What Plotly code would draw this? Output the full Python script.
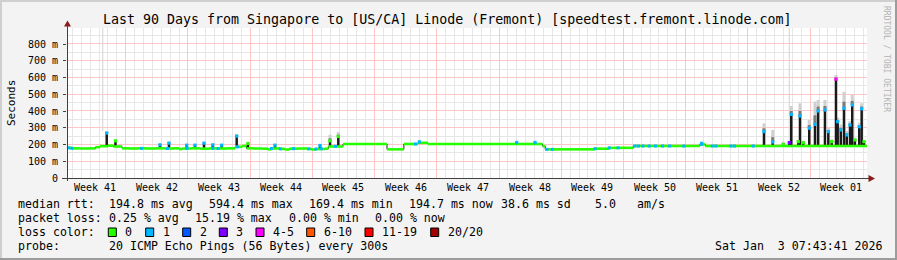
import math
import plotly.graph_objects as go

# ---------------- data ----------------
# median rtt baseline, step points: day offset from graph start, value in ms
base_day = [0, 0.6, 1.5, 2.5, 3.2, 3.7, 4.6, 5.2, 6.2, 7.0, 8.0, 9.0, 10.0, 11.0, 12.0, 12.6,
            13.0, 14.0, 15.0, 16.0, 17.0, 18.0, 18.9, 19.7, 20.2, 21.0, 22.0, 22.6, 23.0, 24.0,
            24.5, 25.0, 26.0, 27.0, 27.5, 28.0, 29.0, 29.4, 31.05, 36.0, 37.9, 39.5, 40.6, 45.0,
            50.0, 53.5, 53.8, 56.0, 59.4, 61.0, 63.7, 71.2, 71.8, 80.0, 90.0]
base_val = [180, 177, 176, 177, 184, 190, 193, 188, 177, 176, 177, 176, 177, 176, 177, 173,
            176, 177, 175, 177, 176, 177, 186, 191, 177, 176, 175, 171, 176, 174,
            170, 175, 176, 174, 170, 173, 175, 188, 203, 171, 203, 210, 203, 203,
            203, 190, 171, 171, 175, 180, 191, 201, 191, 191, 191]

# spikes: day, baseline, median peak, smoke top (ms), loss class index
spike_day = [4.47, 5.45, 10.46, 11.47, 13.47, 14.40, 15.41, 16.40, 17.40, 19.09, 20.36,
             23.40, 28.46, 29.59, 30.52, 39.64, 50.59, 52.65, 71.40,
             78.41, 79.39, 80.58, 81.26, 81.48, 82.27, 82.46, 82.83, 83.50, 84.15, 84.50,
             85.27, 85.65, 86.03, 86.51, 86.70, 87.05, 87.41, 87.72, 88.09, 88.34, 88.64,
             89.13, 89.40, 89.66]
spike_base = [191, 190, 177, 177, 176, 177, 176, 177, 176, 190, 178,
              177, 174, 187, 190, 207, 203, 203, 195,
              191, 191, 191, 191, 191, 191, 191, 191, 191, 191, 191,
              191, 191, 191, 191, 191, 191, 191, 191, 191, 191, 191,
              191, 191, 191]
spike_peak = [268, 222, 198, 208, 196, 196, 208, 198, 196, 250, 206,
              196, 194, 222, 248, 216, 212, 212, 207,
              277, 215, 200, 211, 380, 217, 370, 211, 297, 320, 400,
              406, 277, 217, 590, 336, 287, 416, 257, 316, 436, 227,
              306, 413, 217]
spike_top = [280, 228, 204, 214, 200, 200, 212, 202, 200, 262, 210,
             200, 198, 258, 275, 220, 216, 216, 210,
             326, 287, 217, 220, 430, 225, 446, 220, 346, 456, 466,
             466, 300, 230, 615, 360, 320, 515, 280, 340, 496, 240,
             330, 446, 225]
spike_loss = [1, 0, 1, 1, 1, 1, 1, 1, 1, 1, 0,
              1, 1, 0, 0, 1, 1, 1, 1,
              1, 1, 0, 3, 1, 0, 1, 0, 1, 1, 1,
              1, 1, 0, 4, 1, 1, 1, 1, 1, 1, 0,
              1, 1, 0]

# faint single-sample smoke columns reaching the top of the graph
ghost_day = [4.02, 81.26]
ghost_low = [280, 215]

# samples of the median line with 1/20 loss (blue)
blue_day = [0.2, 0.56, 8.4, 11.3, 13.5, 16.4, 17.0, 19.2, 23.0, 24.0, 25.5, 27.2, 28.0, 28.6,
            30.2, 39.2, 54.0, 54.6, 59.4, 61.0, 62.0, 63.9, 64.3, 64.8, 65.5, 66.2, 67.0, 67.8,
            69.4, 71.4, 72.6, 73.0, 74.7, 75.1, 77.2]
blue_val = [180, 177, 177, 176, 177, 177, 176, 186, 176, 174, 175, 174, 173, 175,
            189, 203, 171, 171, 175, 180, 180, 191, 191, 191, 191, 191, 191, 191,
            191, 201, 191, 191, 191, 191, 191]

y_tick_vals = [0, 100, 200, 300, 400, 500, 600, 700, 800]
y_tick_text = ["0", "100 m", "200 m", "300 m", "400 m", "500 m", "600 m", "700 m", "800 m"]
y_minor_vals = [50, 150, 250, 350, 450, 550, 650, 750, 850]
week_labels = ["Week 41", "Week 42", "Week 43", "Week 44", "Week 45", "Week 46", "Week 47",
               "Week 48", "Week 49", "Week 50", "Week 51", "Week 52", "Week 01"]

loss_labels = ["0", "1", "2", "3", "4-5", "6-10", "11-19", "20/20"]
loss_colors = ["#26ff00", "#00b8ff", "#0059ff", "#7e00ff", "#ff00ff", "#ff5500", "#ff0000", "#a10000"]

title = "Last 90 Days from Singapore to [US/CA] Linode (Fremont) [speedtest.fremont.linode.com]"
row_median = [("median rtt:", 16), ("194.8 ms avg", 107.3), ("594.4 ms max", 207.3),
              ("169.4 ms min", 307.3), ("194.7 ms now", 406.7), ("38.6 ms sd", 499.3),
              ("5.0", 593.3), ("am/s", 635)]
row_loss = [("packet loss:", 16), ("0.25 % avg", 107.3), ("15.19 % max", 192.7),
            ("0.00 % min", 286.7), ("0.00 % now", 372.7)]
row_probe = [("probe:", 16), ("20 ICMP Echo Pings (56 Bytes) every 300s", 107.3),
             ("Sat Jan\u00a0\u00a03 07:43:41 2026", 713.3)]
loss_box_px = [108.3, 145.7, 182.7, 219.3, 256, 306.7, 365, 430.7]

# ---------------- geometry ----------------
W, H = 897, 260
PL, PR, PT, PB = 67, 867, 28, 178
DAYS = 90
Y_TOP = 895.5
FONT = "DejaVu Sans Mono"
first_week_start = -0.4


def px2x(px):
    return (px - PL) / (PR - PL)


def py2y(py):
    return (PB - py) / (PB - PT)


def crisp_day(d):
    px = PL + d * (PR - PL) / DAYS
    return (math.floor(px) + 0.5 - PL) * DAYS / (PR - PL)


def crisp_val(v):
    py = PB - v * (PB - PT) / Y_TOP
    return (PB - (math.floor(py) + 0.5)) * Y_TOP / (PB - PT)


def vsegs(xs, y0s, y1s):
    sx, sy = [], []
    for x, a, b in zip(xs, y0s, y1s):
        sx += [x, x, None]
        sy += [a, b, None]
    return sx, sy


def hsegs(ys):
    sx, sy = [], []
    for v in ys:
        sx += [0, DAYS, None]
        sy += [v, v, None]
    return sx, sy


week_starts = [first_week_start + 7 * k for k in range(1, 14) if first_week_start + 7 * k < DAYS]
week_mids = [first_week_start + 7 * k + 3.5 for k in range(len(week_labels))]
day_lines = [first_week_start + k for k in range(1, DAYS + 1)
             if (k % 7) != 0 and first_week_start + k < DAYS]

grid_minor = "#e6e6e6"
grid_major = "#ffc6c6"

fig = go.Figure()


def add_lines(sx, sy, color, width):
    fig.add_trace(go.Scatter(x=sx, y=sy, mode="lines", hoverinfo="skip",
                             line=dict(color=color, width=width)))


# ---- grid (pixel-aligned lines) ----
gx, gy = vsegs([crisp_day(d) for d in day_lines], [0] * len(day_lines), [Y_TOP] * len(day_lines))
add_lines(gx, gy, grid_minor, 1)
gx, gy = hsegs([crisp_val(v) for v in y_minor_vals])
add_lines(gx, gy, grid_minor, 1)
gx, gy = vsegs([crisp_day(d) for d in week_starts], [0] * len(week_starts), [Y_TOP] * len(week_starts))
add_lines(gx, gy, grid_major, 1)
gx, gy = hsegs([crisp_val(v) for v in y_tick_vals[1:]])
add_lines(gx, gy, grid_major, 1)

# ---- smoke ----
sx, sy = vsegs(ghost_day, ghost_low, [Y_TOP + 10] * len(ghost_day))
add_lines(sx, sy, "#dadada", 1.2)
sx, sy = vsegs(spike_day, spike_peak, spike_top)
add_lines(sx, sy, "#d0d0d0", 3)
smoke_mid = [p + 0.4 * (t - p) for p, t in zip(spike_peak, spike_top)]
sx, sy = vsegs(spike_day, spike_peak, smoke_mid)
add_lines(sx, sy, "#7c7c7c", 3)
# dark spike bodies
sx, sy = vsegs(spike_day, spike_base, spike_peak)
add_lines(sx, sy, "#1a1a1a", 2.5)

# ---- median line: thin dark staircase, then thick green horizontal runs ----
fig.add_trace(go.Scatter(x=base_day, y=base_val, mode="lines", hoverinfo="skip",
                         line=dict(shape="hv", color="#202020", width=1)))
mx, my = [], []
for i in range(len(base_day) - 1):
    mx += [base_day[i], base_day[i + 1], None]
    my += [base_val[i], base_val[i], None]
add_lines(mx, my, "#26ff00", 2.6)
fig.add_trace(go.Scatter(x=blue_day, y=blue_val, mode="markers", hoverinfo="skip",
                         marker=dict(symbol="square", size=3, color="#00b8ff", line_width=0)))
fig.add_trace(go.Scatter(x=spike_day, y=spike_peak, mode="markers", hoverinfo="skip",
                         marker=dict(symbol="square", size=3.2, color=[loss_colors[i] for i in spike_loss],
                                     line_width=0)))

fig.update_layout(
    width=W, height=H,
    margin=dict(l=PL, r=W - PR, t=PT, b=H - PB),
    paper_bgcolor="#f3f3f3", plot_bgcolor="#ffffff",
    showlegend=False,
    font=dict(family=FONT, size=10, color="#000000"),
    xaxis=dict(range=[0, DAYS], showticklabels=False, showgrid=False, zeroline=False,
               showline=False, ticks=""),
    yaxis=dict(range=[0, Y_TOP], tickmode="array", tickvals=y_tick_vals,
               ticktext=y_tick_text, showgrid=False, zeroline=False, showline=False,
               ticks="outside", ticklen=3, tickcolor="#404040",
               tickfont=dict(family=FONT, size=10, color="#000000"), ticklabelstandoff=3),
)

shapes = []
# axes lines
shapes.append(dict(type="line", xref="paper", yref="paper", x0=px2x(PL + 0.5), x1=px2x(PL + 0.5),
                   y0=py2y(181), y1=py2y(24), line=dict(color="#404040", width=1)))
shapes.append(dict(type="line", xref="paper", yref="paper", x0=px2x(62), x1=px2x(869),
                   y0=py2y(PB + 0.5), y1=py2y(PB + 0.5), line=dict(color="#404040", width=1)))
# arrows
shapes.append(dict(type="path", xref="paper", yref="paper",
                   path=f"M {px2x(67.5)},{py2y(20.5)} L {px2x(64)},{py2y(26.5)} L {px2x(71)},{py2y(26.5)} Z",
                   fillcolor="#8b1a1a", line=dict(width=0)))
shapes.append(dict(type="path", xref="paper", yref="paper",
                   path=f"M {px2x(875)},{py2y(178.5)} L {px2x(868.5)},{py2y(175)} L {px2x(868.5)},{py2y(182)} Z",
                   fillcolor="#8b1a1a", line=dict(width=0)))
# 3D frame
shapes.append(dict(type="line", xref="paper", yref="paper", x0=px2x(0), x1=px2x(W), y0=py2y(1), y1=py2y(1),
                   line=dict(color="#cfcfcf", width=2)))
shapes.append(dict(type="line", xref="paper", yref="paper", x0=px2x(1), x1=px2x(1), y0=py2y(0), y1=py2y(H),
                   line=dict(color="#cfcfcf", width=2)))
shapes.append(dict(type="line", xref="paper", yref="paper", x0=px2x(0), x1=px2x(W), y0=py2y(H - 1), y1=py2y(H - 1),
                   line=dict(color="#9c9c9c", width=2)))
shapes.append(dict(type="line", xref="paper", yref="paper", x0=px2x(W - 1), x1=px2x(W - 1), y0=py2y(0), y1=py2y(H),
                   line=dict(color="#9c9c9c", width=2)))
# loss colour boxes
for bx, col in zip(loss_box_px, loss_colors):
    shapes.append(dict(type="rect", xref="paper", yref="paper", x0=px2x(bx), x1=px2x(bx + 8),
                       y0=py2y(236.5), y1=py2y(228), fillcolor=col, line=dict(color="#000000", width=1)))

ann = []


def text(t, px, py, size=11.6, anchor="left", color="#000000", angle=0):
    ann.append(dict(text=t, x=px2x(px), y=py2y(py), xref="paper", yref="paper", showarrow=False,
                    xanchor=anchor, yanchor="middle", textangle=angle,
                    font=dict(family=FONT, size=size, color=color)))


text(title, 447, 19.3, size=13.3, anchor="center")
text("Seconds", 11, 103, size=11, anchor="center", angle=-90)
text("RRDTOOL / TOBI OETIKER", 887, 59, size=8, anchor="center", color="#b4b4b4", angle=90)
for lbl, d in zip(week_labels, week_mids):
    ann.append(dict(text=lbl, x=d, y=py2y(187.5), xref="x", yref="paper", showarrow=False,
                    xanchor="center", yanchor="middle", font=dict(family=FONT, size=10, color="#000000")))
for t, px in row_median:
    text(t, px, 204.3)
for t, px in row_loss:
    text(t, px, 218.3)
text("loss color:", 16, 232.3)
for bx, lbl in zip(loss_box_px, loss_labels):
    text(lbl, bx + 15, 232.3)
for t, px in row_probe:
    text(t, px, 246)

fig.update_layout(shapes=shapes, annotations=ann)
fig.write_html("out.html", config={"displayModeBar": False})
